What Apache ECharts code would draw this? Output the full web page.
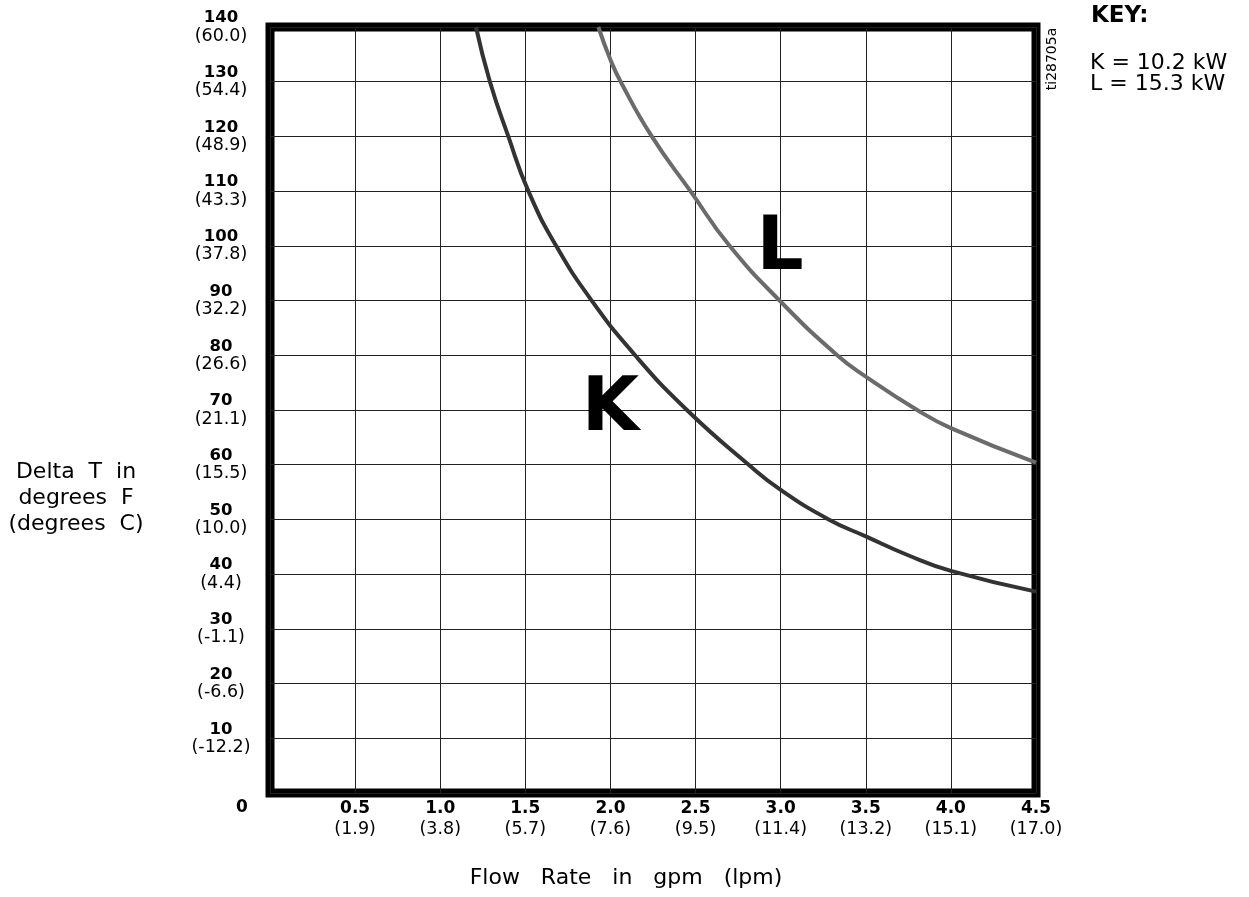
<!DOCTYPE html>
<html>
<head>
<meta charset="utf-8">
<script src="https://cdn.jsdelivr.net/npm/echarts@6/dist/echarts.min.js"></script>
<style>
html,body{margin:0;padding:0;background:#fff;}
#chart{width:1249px;height:897px;}
</style>
</head>
<body>
<div id="chart"></div>
<script>
// Curve K (10.2 kW): flow rate (gpm) vs Delta T (deg F)
const flowK = [1.21, 1.292, 1.40, 1.518, 1.681, 1.89, 2.145, 2.449, 2.812, 3.0, 3.282, 3.5, 3.745, 4.0, 4.5];
const deltaK = [140, 130, 120, 110, 100, 90, 80, 70, 60, 55.4, 50, 46.9, 43.5, 40.6, 36.8];
// Curve L (15.3 kW)
const flowL = [1.929, 2.0, 2.06, 2.243, 2.47, 2.7, 3.0, 3.332, 3.5, 3.802, 4.0, 4.5];
const deltaL = [140, 134, 130, 120, 110, 100, 89.8, 80, 76.1, 70, 66.7, 60.4];

// Tick labels
const xTickGpm = ['0.5', '1.0', '1.5', '2.0', '2.5', '3.0', '3.5', '4.0', '4.5'];
const xTickLpm = ['(1.9)', '(3.8)', '(5.7)', '(7.6)', '(9.5)', '(11.4)', '(13.2)', '(15.1)', '(17.0)'];
const yTickZero = '0';
const yTickF = ['10', '20', '30', '40', '50', '60', '70', '80', '90', '100', '110', '120', '130', '140'];
const yTickC = ['(-12.2)', '(-6.6)', '(-1.1)', '(4.4)', '(10.0)', '(15.5)', '(21.1)', '(26.6)', '(32.2)', '(37.8)', '(43.3)', '(48.9)', '(54.4)', '(60.0)'];

const keyTitle = 'KEY:';
const keyLines = ['K = 10.2 kW', 'L = 15.3 kW'];
const drawingId = 'ti28705a';

const FONT = '"DejaVu Sans", "Liberation Sans", Arial, sans-serif';

const chart = echarts.init(document.getElementById('chart'), null, {renderer: 'canvas'});

function pairs(xs, ys) { return xs.map((x, i) => [x, ys[i]]); }

const option = {
  animation: false,
  backgroundColor: '#fff',
  textStyle: {fontFamily: FONT, color: '#000'},
  grid: {
    left: 270, right: 213, top: 27, bottom: 104,
    show: true, borderColor: '#000', borderWidth: 9, backgroundColor: 'transparent',
    containLabel: false
  },
  xAxis: {
    type: 'value', min: 0, max: 4.5, interval: 0.5,
    axisLine: {show: false}, axisTick: {show: false},
    splitLine: {show: true, lineStyle: {color: '#222', width: 1}},
    axisLabel: {
      margin: 5,
      formatter: function (v) {
        const i = Math.round(v / 0.5) - 1;
        if (i < 0 || i >= xTickGpm.length) return '';
        return '{b|' + xTickGpm[i] + '}\n{n|' + xTickLpm[i] + '}';
      },
      rich: {
        b: {fontFamily: FONT, fontWeight: 'bold', fontSize: 17, lineHeight: 21, color: '#000', align: 'center'},
        n: {fontFamily: FONT, fontSize: 17.5, lineHeight: 21, color: '#000', align: 'center'}
      }
    }
  },
  yAxis: {
    type: 'value', min: 0, max: 140, interval: 10,
    axisLine: {show: false}, axisTick: {show: false},
    splitLine: {show: true, lineStyle: {color: '#222', width: 1}},
    axisLabel: {
      margin: 49,
      align: 'center',
      formatter: function (v) {
        const i = Math.round(v / 10) - 1;
        if (i < 0) return '{z|' + yTickZero + '}';
        return '{b|' + yTickF[i] + '}\n{n|' + yTickC[i] + '}';
      },
      rich: {
        b: {fontFamily: FONT, fontWeight: 'bold', fontSize: 16.5, lineHeight: 18, color: '#000', align: 'center'},
        n: {fontFamily: FONT, fontSize: 17.5, lineHeight: 18, color: '#000', align: 'center'},
        z: {fontFamily: FONT, fontWeight: 'bold', fontSize: 17, lineHeight: 18, color: '#000', padding: [30, 0, 0, 42]}
      }
    }
  },
  series: [
    {
      name: 'K', type: 'line', data: pairs(flowK, deltaK), smooth: 0.5,
      showSymbol: false, symbol: 'none', clip: true,
      lineStyle: {color: '#333', width: 4},
      markPoint: {
        symbol: 'rect', symbolSize: 1, itemStyle: {color: 'rgba(0,0,0,0)'},
        data: [{coord: [2.0, 69.8], value: 'K'}],
        label: {show: true, position: 'inside', formatter: 'K', fontFamily: FONT, fontSize: 74, fontWeight: 'bold', color: '#000'}
      }
    },
    {
      name: 'L', type: 'line', data: pairs(flowL, deltaL), smooth: 0.5,
      showSymbol: false, symbol: 'none', clip: true,
      lineStyle: {color: '#6b6b6b', width: 4},
      markPoint: {
        symbol: 'rect', symbolSize: 1, itemStyle: {color: 'rgba(0,0,0,0)'},
        data: [{coord: [2.996, 99.3], value: 'L'}],
        label: {show: true, position: 'inside', formatter: 'L', fontFamily: FONT, fontSize: 74, fontWeight: 'bold', color: '#000'}
      }
    }
  ],
  graphic: [
    {
      type: 'text', x: 76, y: 498,
      style: {
        text: 'Delta  T  in\ndegrees  F\n(degrees  C)',
        font: '22px ' + FONT, fill: '#000',
        textAlign: 'center', textVerticalAlign: 'middle', lineHeight: 26
      }
    },
    {
      type: 'text', x: 626, y: 878.5,
      style: {
        text: 'Flow   Rate   in   gpm   (lpm)',
        font: '22px ' + FONT, fill: '#000',
        textAlign: 'center', textVerticalAlign: 'middle'
      }
    },
    {
      type: 'text', x: 1091, y: 16.5,
      style: {text: keyTitle, font: 'bold 23px ' + FONT, fill: '#000', textAlign: 'left', textVerticalAlign: 'middle'}
    },
    {
      type: 'text', x: 1090, y: 73.5,
      style: {text: keyLines.join('\n'), font: '22px ' + FONT, fill: '#000', textAlign: 'left', textVerticalAlign: 'middle', lineHeight: 21}
    },
    {
      type: 'text', x: 1052, y: 59, rotation: Math.PI / 2,
      style: {text: drawingId, font: '14px ' + FONT, fill: '#000', textAlign: 'center', textVerticalAlign: 'middle'}
    }
  ]
};

chart.setOption(option);
</script>
</body>
</html>
